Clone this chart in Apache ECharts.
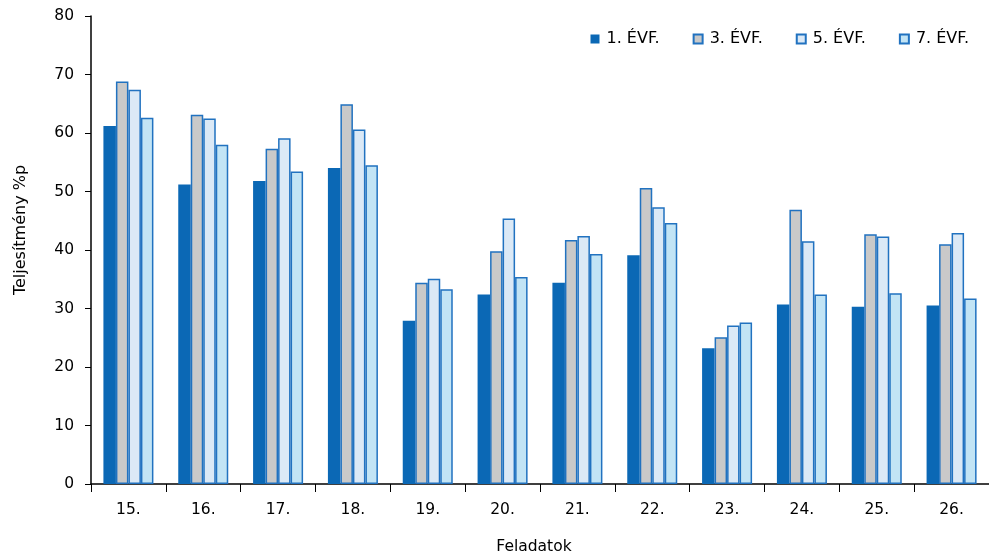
<!DOCTYPE html>
<html><head><meta charset="utf-8">
<script src="https://cdn.jsdelivr.net/npm/echarts@6/dist/echarts.min.js"></script>
<style>html,body{margin:0;padding:0;background:#fff}#c{width:989px;height:557px}</style>
</head><body><div id="c"></div>
<script>
const categories = ['15.','16.','17.','18.','19.','20.','21.','22.','23.','24.','25.','26.'];
const seriesNames = ['1. ÉVF.','3. ÉVF.','5. ÉVF.','7. ÉVF.'];
const evf1 = [61.2,51.2,51.8,54.0,27.9,32.4,34.4,39.1,23.2,30.7,30.3,30.5];
const evf3 = [68.8,63.1,57.3,64.9,34.4,39.8,41.7,50.6,25.1,46.9,42.7,41.0];
const evf5 = [67.4,62.5,59.1,60.6,35.1,45.4,42.4,47.3,27.1,41.5,42.3,42.9];
const evf7 = [62.6,58.0,53.4,54.5,33.3,35.4,39.3,44.6,27.6,32.4,32.6,31.7];
const yTicks = {min:0,max:80,interval:10};

const FONT = "'DejaVu Sans',sans-serif";
const FS = 15.5;
const fills = ['#0b68b5','#c9c9c9','#dbe9f6','#c2e4f5'];
const borders = ['#0b68b5','#2172c0','#2172c0','#2172c0'];
const data = [evf1,evf3,evf5,evf7];
const chart = echarts.init(document.getElementById('c'));
chart.setOption({
  animation:false,
  textStyle:{fontFamily:FONT},
  grid:{left:91,right:0,top:16,bottom:73,containLabel:false,outerBoundsMode:'none'},
  legend:{
    right:15, top:26, itemWidth:9, itemHeight:9, itemGap:33,
    textStyle:{fontFamily:FONT,fontSize:16,color:'#000',padding:[0,0,0,2]},
    data:seriesNames.map((n,i)=>({name:n,icon:'rect'}))
  },
  xAxis:{
    type:'category', data:categories,
    axisLine:{lineStyle:{color:'#000',width:1.5}},
    axisTick:{show:true,length:8,lineStyle:{color:'#000'},alignWithLabel:false},
    axisLabel:{color:'#000',fontSize:FS,fontFamily:FONT,margin:18},
    name:'Feladatok', nameLocation:'middle', nameGap:55,
    nameTextStyle:{color:'#000',fontSize:FS,fontFamily:FONT,padding:[0,12,0,0]}
  },
  yAxis:{
    type:'value', min:yTicks.min, max:yTicks.max, interval:yTicks.interval,
    axisLine:{show:true,lineStyle:{color:'#000',width:1.5}},
    axisTick:{show:true,length:6,lineStyle:{color:'#000'}},
    splitLine:{show:false},
    axisLabel:{color:'#000',fontSize:FS,fontFamily:FONT,margin:17},
    name:'Teljesítmény %p', nameLocation:'middle', nameGap:62, nameRotate:90,
    nameTextStyle:{color:'#000',fontSize:16,fontFamily:FONT,padding:[0,0,0,40]}
  },
  series:seriesNames.map((n,i)=>({
    name:n, type:'bar', data:data[i], barWidth:12.5, barGap:'0%',
    itemStyle:{color:fills[i],borderColor:borders[i],borderWidth:i===0?0:1.5}
  }))
});
</script></body></html>
